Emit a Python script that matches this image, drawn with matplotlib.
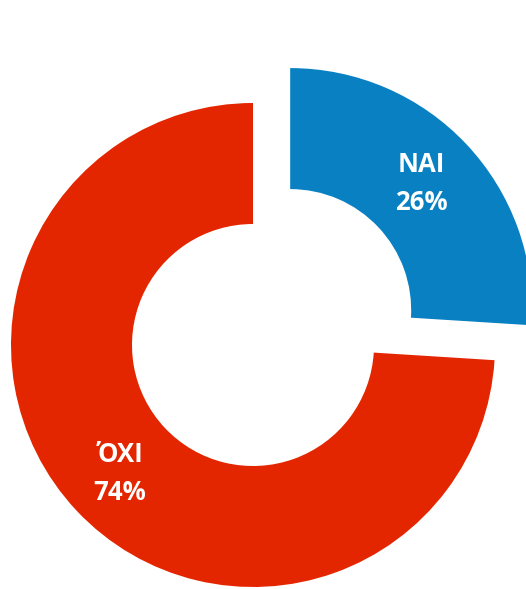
import matplotlib.pyplot as plt

# referendum result
labels = ["ΌΧΙ", "ΝΑΙ"]
shares = [74, 26]
colors = ["#e42600", "#0880c2"]

plt.rcParams['font.family'] = ['Open Sans', 'DejaVu Sans']

fig = plt.figure(figsize=(5.26, 5.89), dpi=100)
ax = fig.add_axes([0, 0, 1, 1])

# explode is in data units here (pixels), blue slice pulled out
wedges, _ = ax.pie(shares, colors=colors, explode=[0, 51], startangle=90,
                   counterclock=True, center=(253, 244), radius=242,
                   wedgeprops=dict(width=121, linewidth=0))

ax.set_xlim(0, 526)
ax.set_ylim(0, 589)
ax.set_aspect('equal')
ax.axis('off')

# labels inside the ring
pos = {"ΌΧΙ": (120, 134), "ΝΑΙ": (421, 424)}
for lab, val in zip(labels, shares):
    x, y = pos[lab]
    ax.text(x, y, lab, color='white', fontsize=18.5, fontweight='bold',
            ha='center', va='center', zorder=5)
    ax.text(x, y - 38, f"{val}%", color='white', fontsize=18.5,
            fontweight='bold', ha='center', va='center', zorder=5)

fig.savefig("out.png", dpi=100)
